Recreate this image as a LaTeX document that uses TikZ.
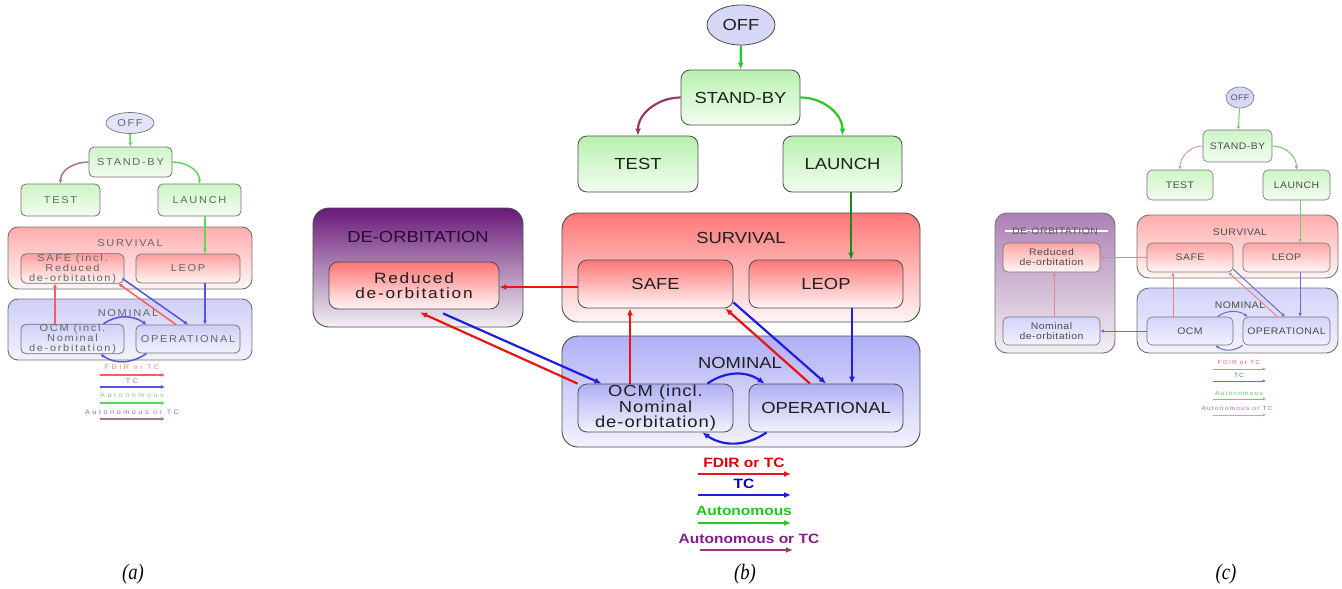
\documentclass[tikz,border=0pt]{standalone}
\usepackage{fontspec}
\setmainfont{Liberation Serif}
\newfontfamily\bfam[FakeStretch=1.15]{Liberation Sans}
\newfontfamily\bfamsp[FakeStretch=1.15,LetterSpace=6]{Liberation Sans}
\newfontfamily\bfamwide[FakeStretch=1.15,LetterSpace=12]{Liberation Sans}
\newfontfamily\afam[FakeStretch=1.1,LetterSpace=17]{Liberation Sans}
\newfontfamily\alegfam[FakeStretch=1.1,LetterSpace=40]{Liberation Sans}
\newfontfamily\cfam[FakeStretch=1.1,LetterSpace=5]{Liberation Sans}
\newfontfamily\clegfam[FakeStretch=1.1,LetterSpace=20]{Liberation Sans}
\newfontfamily\capfam[FakeStretch=0.85]{Liberation Serif}
\usetikzlibrary{arrows.meta,shapes.geometric,positioning}

% transition colours
\definecolor{bred}{RGB}{235,20,20}
\definecolor{bblue}{RGB}{30,30,225}
\definecolor{bgreen}{RGB}{40,200,40}
\definecolor{bdkgreen}{RGB}{30,135,30}
\definecolor{bplum}{RGB}{150,55,110}
\definecolor{bpurtext}{RGB}{130,30,140}
\definecolor{ared}{RGB}{245,95,95}
\definecolor{ablue}{RGB}{85,85,225}
\definecolor{agreen}{RGB}{95,215,95}
\definecolor{aplum}{RGB}{170,115,140}
\definecolor{cred}{RGB}{238,130,140}
\definecolor{cblue}{RGB}{105,105,215}
\definecolor{cgreen}{RGB}{125,195,115}
\definecolor{cplum}{RGB}{200,165,175}
% state fills
\definecolor{grntop}{RGB}{185,240,175}
\definecolor{grnbot}{RGB}{242,253,240}
\definecolor{redtop}{RGB}{255,118,118}
\definecolor{redbot}{RGB}{255,246,246}
\definecolor{blutop}{RGB}{175,175,245}
\definecolor{blubot}{RGB}{242,242,252}
\definecolor{purtop}{RGB}{105,25,120}
\definecolor{purmid}{RGB}{185,160,195}
\definecolor{purbot}{RGB}{242,240,242}
\definecolor{offfill}{RGB}{215,215,248}

\tikzset{
  box/.style 2 args={draw=black!70, line width=0.8pt, rounded corners=9pt, inner sep=0pt,
    align=center, minimum width=#1pt, minimum height=#2pt},
  group/.style 2 args={draw=black!70, line width=0.9pt, rounded corners=16pt, inner sep=0pt,
    minimum width=#1pt, minimum height=#2pt},
  greenfill/.style={top color=grntop!#1, bottom color=grnbot}, greenfill/.default=100,
  redfill/.style={top color=redtop!#1, bottom color=redbot}, redfill/.default=100,
  bluefill/.style={top color=blutop!#1, bottom color=blubot}, bluefill/.default=100,
  purplefill/.style={top color=purtop!#1, middle color=purmid!#1, bottom color=purbot},
  purplefill/.default=100,
  btxt/.style={font=\bfam\fontsize{16}{16}\selectfont, text=black!88},
  btxtsp/.style={font=\bfamsp\fontsize{16}{15.5}\selectfont, text=black!88},
  btxtwide/.style={font=\bfamwide\fontsize{15}{15}\selectfont, text=black!88},
  bleg/.style={font=\bfam\bfseries\fontsize{13.5}{14}\selectfont},
  atxt/.style={font=\afam\fontsize{10}{10}\selectfont, text=black!60},
  aleg/.style={font=\alegfam\fontsize{6.5}{7}\selectfont},
  ctxt/.style={font=\cfam\fontsize{9.5}{10}\selectfont, text=black!70},
  cleg/.style={font=\clegfam\fontsize{6}{7}\selectfont},
  caption/.style={font=\capfam\itshape\fontsize{22}{24}\selectfont}
}

\begin{document}
\begin{tikzpicture}[x=1pt, y=-1pt]
  \useasboundingbox (0,0) rectangle (1342,589);

  % ---------------- (b) ----------------
  \node[group={210}{119}, purplefill] (bdeorb) at (418,267.5) {};
  \node[group={358}{109}, redfill] (bsurv) at (741,267.5) {};
  \node[group={358}{111}, bluefill] (bnom) at (741,391.5) {};
  \node[btxt, text={rgb,255:red,40;green,10;blue,50}] (bdeorbt) at (418,237) {DE-ORBITATION};
  \node[btxt] (bsurvt) at (741,238) {SURVIVAL};
  \node[btxt] (bnomt) at (740,363) {NOMINAL};
  \node[ellipse, draw=black!70, line width=0.8pt, fill=offfill, inner sep=0pt,
    minimum width=68pt, minimum height=40pt, btxt] (boff) at (741,25) {OFF};
  \node[box={119}{55}, greenfill, btxt] (bstand) at (740.5,97.5) {STAND-BY};
  \node[box={120}{56}, greenfill, btxt] (btest) at (638,164) {TEST};
  \node[box={119}{56}, greenfill, btxt] (blaunch) at (842.5,164) {LAUNCH};
  \node[box={155}{48}, redfill, btxt] (bsafe) at (655.5,284) {SAFE};
  \node[box={154}{48}, redfill, btxt] (bleop) at (826,284) {LEOP};
  \node[box={155}{48}, bluefill, btxtsp] (bocm) at (655.5,408) {OCM (incl.\\Nominal\\de-orbitation)};
  \node[box={154}{48}, bluefill, btxt] (boper) at (826,408) {OPERATIONAL};
  \node[box={170}{47}, redfill, btxtwide] (breduced) at (414,285.5) {Reduced\\de-orbitation};

  \begin{scope}[line width=2.2pt, >={Latex[length=7pt,width=6pt]}]
    \draw[->, bgreen] (boff) -- (bstand);
    \draw[->, bplum] (bstand.west) to[out=180, in=90] (btest.north);
    \draw[->, bgreen] (bstand.east) to[out=0, in=90] (blaunch.north);
    \draw[->, bdkgreen] ([xshift=8.5pt]blaunch.south) -- ([xshift=25pt]bleop.north);
    \draw[->, bblue] ([xshift=26pt]bleop.south) -- ([xshift=26pt]boper.north);
    \draw[->, bblue] ([yshift=6pt]bsafe.south east) -- (boper.north);
    \draw[->, bred] ([xshift=-16pt]boper.north) -- ([xshift=-8pt]bsafe.south east);
    \draw[->, bred] ([xshift=-25.5pt]bocm.north) -- ([xshift=-25.5pt]bsafe.south);
    \draw[->, bred] ([yshift=-3pt]bsafe.west) -- ([yshift=-3pt]bsafe.west -| breduced.east);
    \draw[->, bred] (bocm.north west) -- ([xshift=6pt,yshift=-3pt]breduced.south);
    \draw[->, bblue] ([xshift=29pt,yshift=-4pt]breduced.south) -- ([xshift=24pt]bocm.north west);
    \draw[->, bblue] ([xshift=-26pt]bocm.north east) to[out=35, in=145] ([xshift=16pt]boper.north west);
    \draw[->, bblue] ([xshift=18pt]boper.south west) to[out=-145, in=-35] ([xshift=-31pt]bocm.south east);
  \end{scope}

  % legend (b)
  \node[bleg, text={rgb,255:red,220;green,0;blue,0}] (bk1) at (744,463) {FDIR or TC};
  \node[bleg, text={rgb,255:red,0;green,0;blue,200}] (bk2) at (744,484) {TC};
  \node[bleg, text={rgb,255:red,30;green,200;blue,30}] (bk3) at (744,511) {Autonomous};
  \node[bleg, text=bpurtext] (bk4) at (749,539) {Autonomous or TC};
  \coordinate (bk1a) at (698,474); \coordinate (bk1b) at (791,474);
  \coordinate (bk2a) at (698,495); \coordinate (bk2b) at (791,495);
  \coordinate (bk3a) at (698,523); \coordinate (bk3b) at (791,523);
  \coordinate (bk4a) at (700,550); \coordinate (bk4b) at (793,550);
  \begin{scope}[line width=2.2pt, >={Latex[length=7pt,width=6pt]}]
    \draw[->, bred] (bk1a) -- (bk1b);
    \draw[->, bblue] (bk2a) -- (bk2b);
    \draw[->, bgreen] (bk3a) -- (bk3b);
    \draw[->, bplum] (bk4a) -- (bk4b);
  \end{scope}
  \node[caption] (capb) at (745,574) {(b)};

  % ---------------- (a) ----------------
  \node[group={244}{62}, redfill=60, draw=black!55, rounded corners=10pt] (asurv) at (130,258) {};
  \node[group={244}{61}, bluefill=60, draw=black!55, rounded corners=10pt] (anom) at (130,329.5) {};
  \node[atxt] (asurvt) at (130,243) {SURVIVAL};
  \node[atxt] (anomt) at (128,313) {NOMINAL};
  \node[ellipse, draw=black!55, line width=0.7pt, fill=offfill!70, inner sep=0pt,
    minimum width=48pt, minimum height=21pt, atxt] (aoff) at (130,123) {OFF};
  \node[box={83}{30}, greenfill=70, draw=black!55, rounded corners=5pt, atxt] (astand) at (130.5,162) {STAND-BY};
  \node[box={79}{32}, greenfill=70, draw=black!55, rounded corners=5pt, atxt] (atest) at (60.5,200) {TEST};
  \node[box={83}{32}, greenfill=70, draw=black!55, rounded corners=5pt, atxt] (alaunch) at (199.5,200) {LAUNCH};
  \node[box={103}{29}, redfill=70, draw=black!55, rounded corners=5pt, atxt] (asafe) at (72.5,268.5) {SAFE (incl.\\Reduced\\de-orbitation)};
  \node[box={104}{29}, redfill=70, draw=black!55, rounded corners=5pt, atxt] (aleop) at (188,268.5) {LEOP};
  \node[box={103}{28}, bluefill=60, draw=black!55, rounded corners=5pt, atxt] (aocm) at (72.5,339) {OCM (incl.\\Nominal\\de-orbitation)};
  \node[box={104}{28}, bluefill=60, draw=black!55, rounded corners=5pt, atxt] (aoper) at (188,339) {OPERATIONAL};

  \begin{scope}[line width=1.5pt, >={Latex[length=4pt,width=4pt]}]
    \draw[->, agreen] (aoff) -- (astand);
    \draw[->, aplum] (astand.west) to[out=180, in=90] (atest.north);
    \draw[->, agreen] (astand.east) to[out=0, in=90] (alaunch.north);
    \draw[->, agreen] ([xshift=5.5pt]alaunch.south) -- ([xshift=17pt]aleop.north);
    \draw[->, ablue] ([xshift=17pt]aleop.south) -- ([xshift=17pt]aoper.north);
    \draw[->, ablue] ([xshift=-2pt,yshift=5pt]asafe.south east) -- (aoper.north);
    \draw[->, ared] ([xshift=-12pt]aoper.north) -- ([xshift=-6pt]asafe.south east);
    \draw[->, ared] ([xshift=-17.5pt]aocm.north) -- ([xshift=-17.5pt]asafe.south);
    \draw[->, ablue] ([xshift=-21pt]aocm.north east) to[out=35, in=145] ([xshift=11pt]aoper.north west);
    \draw[->, ablue] ([xshift=11pt]aoper.south west) to[out=-145, in=-35] ([xshift=-24pt]aocm.south east);
  \end{scope}

  % legend (a)
  \node[aleg, text={rgb,255:red,240;green,120;blue,120}] (ak1) at (132,367) {FDIR or TC};
  \node[aleg, text={rgb,255:red,110;green,110;blue,220}] (ak2) at (132,381) {TC};
  \node[aleg, text={rgb,255:red,120;green,210;blue,120}] (ak3) at (132,395) {Autonomous};
  \node[aleg, text={rgb,255:red,150;green,110;blue,150}] (ak4) at (132,412) {Autonomous or TC};
  \coordinate (ak1a) at (100,375); \coordinate (ak1b) at (165,375);
  \coordinate (ak2a) at (100,387); \coordinate (ak2b) at (165,387);
  \coordinate (ak3a) at (100,403); \coordinate (ak3b) at (165,403);
  \coordinate (ak4a) at (100,419); \coordinate (ak4b) at (165,419);
  \begin{scope}[line width=1.5pt, >={Latex[length=4pt,width=4pt]}]
    \draw[->, ared] (ak1a) -- (ak1b);
    \draw[->, ablue] (ak2a) -- (ak2b);
    \draw[->, agreen] (ak3a) -- (ak3b);
    \draw[->, aplum] (ak4a) -- (ak4b);
  \end{scope}
  \node[caption] (capa) at (133,574) {(a)};

  % ---------------- (c) ----------------
  \node[group={120}{140}, purplefill=55, draw=black!55, rounded corners=12pt] (cdeorb) at (1055,283) {};
  \node[group={201}{63}, redfill=60, draw=black!55, rounded corners=12pt] (csurv) at (1237.5,246.5) {};
  \node[group={201}{65}, bluefill=55, draw=black!55, rounded corners=12pt] (cnom) at (1237.5,320.5) {};
  \draw[white, line width=1.2pt] (1005,231) -- (1108,231);
  \node[ctxt, text=black!65] (cdeorbt) at (1055,231) {DE-ORBITATION};
  \node[ctxt] (csurvt) at (1240,232) {SURVIVAL};
  \node[ctxt] (cnomt) at (1240,305) {NOMINAL};
  \node[ellipse, draw=black!55, line width=0.6pt, fill=offfill, inner sep=0pt,
    minimum width=28pt, minimum height=21pt, ctxt, font=\cfam\fontsize{8}{8}\selectfont] (coff) at (1240,97.5) {OFF};
  \node[box={69}{32}, greenfill=70, draw=black!55, line width=0.6pt, rounded corners=5pt, ctxt] (cstand) at (1237.5,146) {STAND-BY};
  \node[box={66}{30}, greenfill=70, draw=black!55, line width=0.6pt, rounded corners=5pt, ctxt] (ctest) at (1180,185) {TEST};
  \node[box={67}{30}, greenfill=70, draw=black!55, line width=0.6pt, rounded corners=5pt, ctxt] (claunch) at (1296.5,185) {LAUNCH};
  \node[box={86}{29}, redfill=65, draw=black!55, line width=0.6pt, rounded corners=5pt, ctxt] (csafe) at (1190,257.5) {SAFE};
  \node[box={87}{29}, redfill=65, draw=black!55, line width=0.6pt, rounded corners=5pt, ctxt] (cleop) at (1286.5,257.5) {LEOP};
  \node[box={86}{28}, bluefill=55, draw=black!55, line width=0.6pt, rounded corners=5pt, ctxt] (cocm) at (1190,331) {OCM};
  \node[box={87}{28}, bluefill=55, draw=black!55, line width=0.6pt, rounded corners=5pt, ctxt] (coper) at (1286.5,331) {OPERATIONAL};
  \node[box={97}{29}, redfill=65, draw=black!55, line width=0.6pt, rounded corners=5pt, ctxt] (creduced) at (1051.5,257.5) {Reduced\\de-orbitation};
  \node[box={97}{28}, bluefill=55, draw=black!55, line width=0.6pt, rounded corners=5pt, ctxt] (cnomdeorb) at (1051.5,331) {Nominal\\de-orbitation};

  \begin{scope}[line width=1pt, >={Latex[length=3.5pt,width=3.5pt]}]
    \draw[->, cgreen] (coff) -- (cstand);
    \draw[->, cplum] (cstand.west) to[out=180, in=90] (ctest.north);
    \draw[->, cgreen] (cstand.east) to[out=0, in=90] (claunch.north);
    \draw[->, cgreen] ([xshift=3.5pt]claunch.south) -- ([xshift=13.5pt]cleop.north);
    \draw[->, cblue] ([xshift=13.5pt]cleop.south) -- ([xshift=13.5pt]coper.north);
    \draw[->, cblue] ([yshift=3pt]csafe.south east) -- ([xshift=-1.5pt]coper.north);
    \draw[->, cred] ([xshift=-9pt]coper.north) -- ([xshift=-5pt]csafe.south east);
    \draw[->, cred] ([xshift=-17pt]cocm.north) -- ([xshift=-17pt]csafe.south);
    \draw[->, cred] (csafe.west) -- (creduced.east);
    \draw[->, cblue] (cocm.west) -- (cnomdeorb.east);
    \draw[->, cred] ([xshift=2.5pt]cnomdeorb.north) -- ([xshift=2.5pt]creduced.south);
    \draw[->, cblue] ([xshift=-16pt]cocm.north east) to[out=35, in=145] ([xshift=5pt]coper.north west);
    \draw[->, cblue] (coper.south west) to[out=-145, in=-35] ([xshift=-18pt]cocm.south east);
  \end{scope}

  % legend (c)
  \node[cleg, text={rgb,255:red,230;green,100;blue,110}] (ck1) at (1239,362) {FDIR or TC};
  \node[cleg, text={rgb,255:red,100;green,100;blue,200}] (ck2) at (1239,375) {TC};
  \node[cleg, text={rgb,255:red,110;green,190;blue,100}] (ck3) at (1239,393) {Autonomous};
  \node[cleg, text={rgb,255:red,170;green,110;blue,170}] (ck4) at (1237,408) {Autonomous or TC};
  \coordinate (ck1a) at (1213,369); \coordinate (ck1b) at (1266,369);
  \coordinate (ck2a) at (1213,381); \coordinate (ck2b) at (1266,381);
  \coordinate (ck3a) at (1213,399); \coordinate (ck3b) at (1266,399);
  \coordinate (ck4a) at (1213,415); \coordinate (ck4b) at (1266,415);
  \begin{scope}[line width=1pt, >={Latex[length=3.5pt,width=3.5pt]}]
    \draw[->, cred] (ck1a) -- (ck1b);
    \draw[->, cblue] (ck2a) -- (ck2b);
    \draw[->, cgreen] (ck3a) -- (ck3b);
    \draw[->, cplum] (ck4a) -- (ck4b);
  \end{scope}
  \node[caption] (capc) at (1226,574) {(c)};
\end{tikzpicture}
\end{document}
